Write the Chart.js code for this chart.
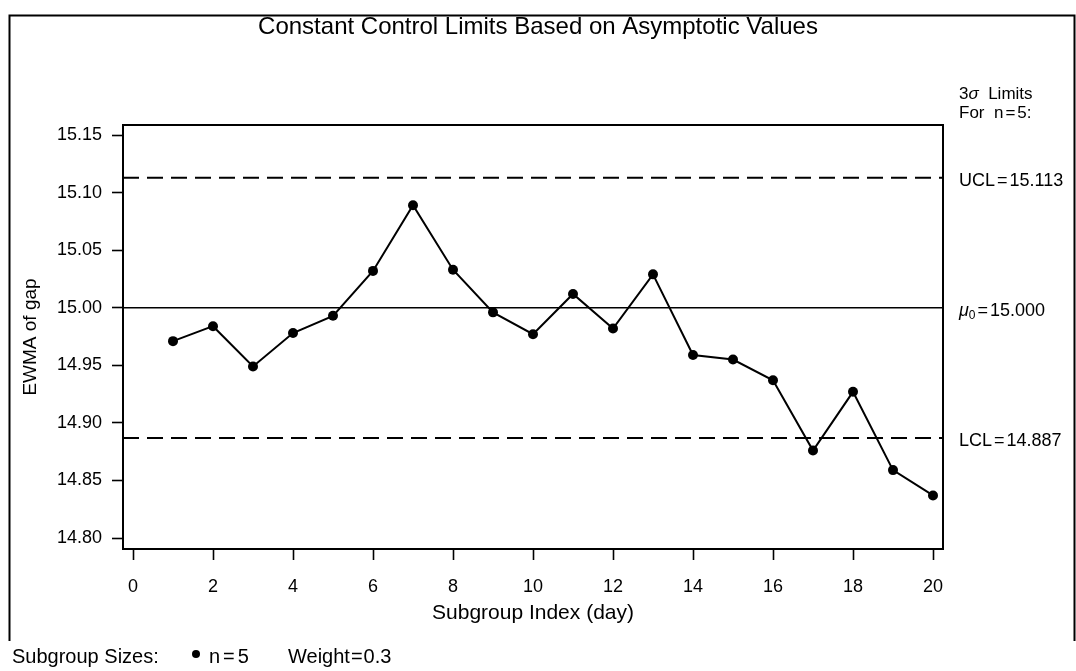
<!DOCTYPE html>
<html>
<head>
<meta charset="utf-8">
<script src="https://cdn.jsdelivr.net/npm/chart.js@4"></script>
<style>
  html, body { margin: 0; padding: 0; background: #fff; }
  #wrap { width: 1076px; height: 671px; }
</style>
</head>
<body>
<div id="wrap"><canvas id="c" width="1076" height="671"></canvas></div>
<script>
// EWMA of gap by day, subgroup size n = 5, weight 0.3
const days = [1, 2, 3, 4, 5, 6, 7, 8, 9, 10, 11, 12, 13, 14, 15, 16, 17, 18, 19, 20];
const ewma = [14.971, 14.984, 14.949, 14.978, 14.993, 15.032, 15.089, 15.033, 14.996, 14.977,
              15.012, 14.982, 15.029, 14.959, 14.955, 14.937, 14.876, 14.927, 14.859, 14.837];

// 3-sigma asymptotic limits
const limitNames  = ['UCL', 'mu0', 'LCL'];
const limitValues = [15.113, 15.000, 14.887];
const limitLabels = ['15.113', '15.000', '14.887'];

const xTicks = [0, 2, 4, 6, 8, 10, 12, 14, 16, 18, 20];
const yTicks = [14.80, 14.85, 14.90, 14.95, 15.00, 15.05, 15.10, 15.15];
const xRange = [-0.25, 20.25];
const yRange = [14.7905, 15.1587];

const FONT = "'Liberation Sans', Arial, Helvetica, sans-serif";
Chart.defaults.font.family = FONT;
Chart.defaults.color = '#000';

const points = days.map((d, i) => ({ x: d, y: ewma[i] }));
const limitLine = v => [{ x: xRange[0], y: v }, { x: xRange[1], y: v }];

const datasets = [
  {
    label: 'EWMA',
    data: points,
    borderColor: '#000',
    borderWidth: 2,
    pointRadius: 5,
    pointBackgroundColor: '#000',
    pointBorderWidth: 0,
    tension: 0
  }
];
limitValues.forEach((v, i) => {
  datasets.push({
    label: limitNames[i],
    data: limitLine(v),
    borderColor: '#000',
    borderWidth: limitNames[i] === 'mu0' ? 1.6 : 2,
    borderDash: limitNames[i] === 'mu0' ? [] : [16, 8],
    pointRadius: 0,
    tension: 0
  });
});

// title, box, outer frame, limit annotations and footer
const decor = {
  id: 'decor',
  afterDraw(chart) {
    const { ctx, chartArea: a, width } = chart;
    const ys = chart.scales.y;
    const f = (sz, it) => (it ? 'italic ' : '') + sz + 'px ' + FONT;
    // "a=b" with a little air around the equals sign
    const eq = (left, right, x, y, gap) => {
      ctx.fillText(left, x, y); x += ctx.measureText(left).width + gap;
      ctx.fillText('=', x, y); x += ctx.measureText('=').width + gap;
      ctx.fillText(right, x, y); x += ctx.measureText(right).width;
      return x;
    };

    ctx.save();
    ctx.strokeStyle = '#000';
    ctx.fillStyle = '#000';

    ctx.font = f(24);
    ctx.textAlign = 'center';
    ctx.textBaseline = 'middle';
    ctx.fillText('Constant Control Limits Based on Asymptotic Values', width / 2, 27);

    ctx.lineWidth = 2;
    ctx.strokeRect(a.left, a.top, a.right - a.left, a.bottom - a.top);

    // outer frame
    ctx.beginPath();
    ctx.moveTo(9.5, 641);
    ctx.lineTo(9.5, 15.5);
    ctx.lineTo(1074.5, 15.5);
    ctx.lineTo(1074.5, 641);
    ctx.stroke();

    ctx.textAlign = 'left';
    const tx = 959;

    // header of the limit column
    let x = tx;
    ctx.font = f(17);
    ctx.fillText('3', x, 94); x += ctx.measureText('3').width;
    ctx.font = f(17, true);
    ctx.fillText('\u03c3', x, 94); x += ctx.measureText('\u03c3').width;
    ctx.font = f(17);
    ctx.fillText('  Limits', x, 94);
    x = tx;
    ctx.fillText('For  ', x, 113); x += ctx.measureText('For  ').width;
    x = eq('n', '5', x, 113, 2);
    ctx.fillText(':', x, 113);

    limitValues.forEach((v, i) => {
      const y = ys.getPixelForValue(v) + 3;
      if (limitNames[i] === 'mu0') {
        let xx = tx;
        ctx.font = f(18, true);
        ctx.fillText('\u03bc', xx, y); xx += ctx.measureText('\u03bc').width;
        ctx.font = f(12);
        ctx.fillText('0', xx, y + 5); xx += ctx.measureText('0').width + 2;
        ctx.font = f(18);
        ctx.fillText('=', xx, y); xx += ctx.measureText('=').width + 2;
        ctx.fillText(limitLabels[i], xx, y);
      } else {
        ctx.font = f(18);
        eq(limitNames[i], limitLabels[i], tx, y, 2);
      }
    });

    // footer
    ctx.font = f(20);
    ctx.fillText('Subgroup Sizes:', 12, 657);
    ctx.beginPath();
    ctx.arc(196, 654, 4, 0, Math.PI * 2);
    ctx.fill();
    eq('n', '5', 209, 657, 3);
    eq('Weight', '0.3', 288, 657, 1);
    ctx.restore();
  }
};

new Chart(document.getElementById('c'), {
  type: 'line',
  data: { datasets },
  options: {
    responsive: false,
    animation: false,
    devicePixelRatio: 1,
    events: [],
    layout: { padding: { left: 0, right: 133, top: 125, bottom: 0 } },
    plugins: {
      legend: { display: false },
      tooltip: { enabled: false },
      title: { display: false }
    },
    scales: {
      x: {
        type: 'linear',
        min: xRange[0],
        max: xRange[1],
        afterBuildTicks: s => { s.ticks = xTicks.map(v => ({ value: v })); },
        afterFit: s => { s.height = 122; },
        ticks: { font: { size: 18 }, color: '#000', padding: 16, maxRotation: 0, autoSkip: false },
        grid: { drawOnChartArea: false, drawTicks: true, tickLength: 11, tickWidth: 1.6, tickColor: '#000' },
        border: { display: true, color: '#000', width: 2 },
        title: { display: true, text: 'Subgroup Index (day)', color: '#000', font: { size: 21 }, padding: { top: 0, bottom: 45 } }
      },
      y: {
        type: 'linear',
        min: yRange[0],
        max: yRange[1],
        afterBuildTicks: s => { s.ticks = yTicks.map(v => ({ value: v })); },
        afterFit: s => { s.width = 123; },
        ticks: { font: { size: 18 }, color: '#000', padding: 10, callback: v => v.toFixed(2), autoSkip: false },
        grid: { drawOnChartArea: false, drawTicks: true, tickLength: 11, tickWidth: 1.6, tickColor: '#000' },
        border: { display: true, color: '#000', width: 2 },
        title: { display: true, text: 'EWMA of gap', color: '#000', font: { size: 19 }, padding: { top: 19, bottom: 0 } }
      }
    }
  },
  plugins: [decor]
});
</script>
</body>
</html>
